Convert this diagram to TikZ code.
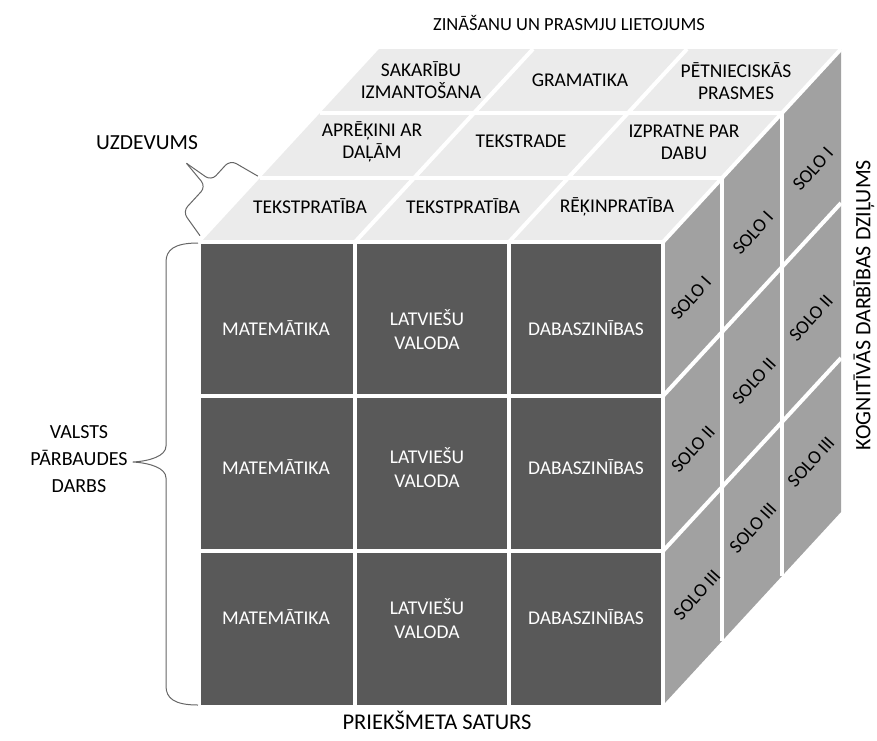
\documentclass[tikz,border=0pt]{standalone}
\usepackage{fontspec}
\setmainfont{Carlito}
\begin{document}
\begin{tikzpicture}[x=1pt,y=-1pt,
  fr/.style={text=white,font=\fontsize{19.5}{24}\selectfont,align=center,inner sep=0pt},
  tp/.style={text=black,font=\fontsize{19.5}{22}\selectfont,align=center,inner sep=0pt},
  so/.style={text=black,font=\fontsize{19}{20}\selectfont,rotate=48,inner sep=0pt},
  lb/.style={text=black,inner sep=0pt,align=center},
  sep/.style={draw=white,line width=4pt},
  brc/.style={draw=black!60,line width=1pt,line join=round}]
\useasboundingbox (0,0) rectangle (877,740);
% corners
\coordinate (A) at (201,242);
\coordinate (B) at (663,242);
\coordinate (C) at (663,705);
\coordinate (E) at (201,705);
\coordinate (Ab) at (379,49);
\coordinate (Bb) at (841,49);
\coordinate (Cb) at (841,512);
% faces
\fill[fill=black!65] (A) rectangle (C);
\fill[fill=black!8] (A) -- (B) -- (Bb) -- (Ab) -- cycle;
\fill[fill=black!37] (B) -- (Bb) -- (Cb) -- (C) -- cycle;
% front separators
\draw[sep] (355,242) -- (355,705);
\draw[sep] (509,242) -- (509,705);
\draw[sep] (201,396) -- (663,396);
\draw[sep] (201,551) -- (663,551);
% top separators
\draw[sep] (260.3,177.7) -- (722.3,177.7);
\draw[sep] (319.7,113.3) -- (781.7,113.3);
\draw[sep] (355,242) -- (533,49);
\draw[sep] (509,242) -- (687,49);
% right separators
\draw[sep] (722.3,177.7) -- (722.3,640.7);
\draw[sep] (781.7,113.3) -- (781.7,576.3);
\draw[sep] (663,396) -- (841,203);
\draw[sep] (663,551) -- (841,358);
% edges
\draw[sep] (A) -- (B);
\draw[sep] (B) -- (C);
\draw[sep] (B) -- (Bb);
% front texts
\node[fr] (f11) at (276,328) {MATEMĀTIKA};
\node[fr] (f12) at (427,330) {LATVIEŠU\\VALODA};
\node[fr] (f13) at (586,328) {DABASZINĪBAS};
\node[fr] (f21) at (276,467) {MATEMĀTIKA};
\node[fr] (f22) at (427,468) {LATVIEŠU\\VALODA};
\node[fr] (f23) at (586,467) {DABASZINĪBAS};
\node[fr] (f31) at (276,617) {MATEMĀTIKA};
\node[fr] (f32) at (427,619) {LATVIEŠU\\VALODA};
\node[fr] (f33) at (586,617) {DABASZINĪBAS};
% top texts
\node[tp] (t11) at (310,206) {TEKSTPRATĪBA};
\node[tp] (t12) at (463,206) {TEKSTPRATĪBA};
\node[tp] (t13) at (617,207) {RĒĶINPRATĪBA};
\node[tp] (t21) at (372,142) {APRĒĶINI AR\\DAĻĀM};
\node[tp] (t22) at (521,141) {TEKSTRADE};
\node[tp] (t23) at (684,142) {IZPRATNE PAR\\DABU};
\node[tp] (t31) at (421,80) {SAKARĪBU\\IZMANTOŠANA};
\node[tp] (t32) at (580,80) {GRAMATIKA};
\node[tp] (t33) at (736,81) {PĒTNIECISKĀS\\PRASMES};
% right texts
\node[so] (s11) at (691,298) {SOLO I};
\node[so] (s12) at (753,233) {SOLO I};
\node[so] (s13) at (813,169) {SOLO I};
\node[so] (s21) at (693,449) {SOLO II};
\node[so] (s22) at (754,381) {SOLO II};
\node[so] (s23) at (811,318) {SOLO II};
\node[so] (s31) at (697,595) {SOLO III};
\node[so] (s32) at (753,528) {SOLO III};
\node[so] (s33) at (811,462) {SOLO III};
% outer labels
\node[lb,font=\fontsize{18.5}{22}\selectfont] (top) at (569,23) {ZINĀŠANU UN PRASMJU LIETOJUMS};
\node[lb,font=\fontsize{21.5}{22}\selectfont] (uzd) at (147,143) {UZDEVUMS};
\node[lb,font=\fontsize{20}{27}\selectfont] (vpd) at (79,459) {VALSTS\\PĀRBAUDES\\DARBS};
\node[lb,font=\fontsize{22.5}{22}\selectfont] (pms) at (437,720) {PRIEKŠMETA SATURS};
\node[lb,font=\fontsize{22}{22}\selectfont,rotate=90] (kdd) at (864,305) {KOGNITĪVĀS DARBĪBAS DZIĻUMS};
% UZDEVUMS brace
\coordinate (u0) at (200,235.7);
\coordinate (u1) at (182.8,211.6);
\coordinate (u2) at (205.8,186.6);
\coordinate (ut) at (186.5,163.3);
\coordinate (u3) at (211.3,180.7);
\coordinate (u4) at (230.2,160.1);
\coordinate (u5) at (257.8,176.1);
\draw[brc,rounded corners=7] (u0) -- (u1) -- (u2) -- (ut);
\draw[brc,rounded corners=7] (ut) -- (u3) -- (u4) -- (u5);
% left brace
\coordinate (l0) at (198,243);
\coordinate (l1) at (166,262);
\coordinate (l2) at (166,446);
\coordinate (lt) at (133,462);
\coordinate (l3) at (166,478);
\coordinate (l4) at (166,686);
\coordinate (l5) at (198,705);
\draw[brc] (l0) .. controls (174,243) and (166,250) .. (l1) -- (l2)
  .. controls (166,456) and (150,461) .. (lt)
  .. controls (150,463) and (166,468) .. (l3) -- (l4)
  .. controls (166,698) and (174,705) .. (l5);
\end{tikzpicture}
\end{document}
